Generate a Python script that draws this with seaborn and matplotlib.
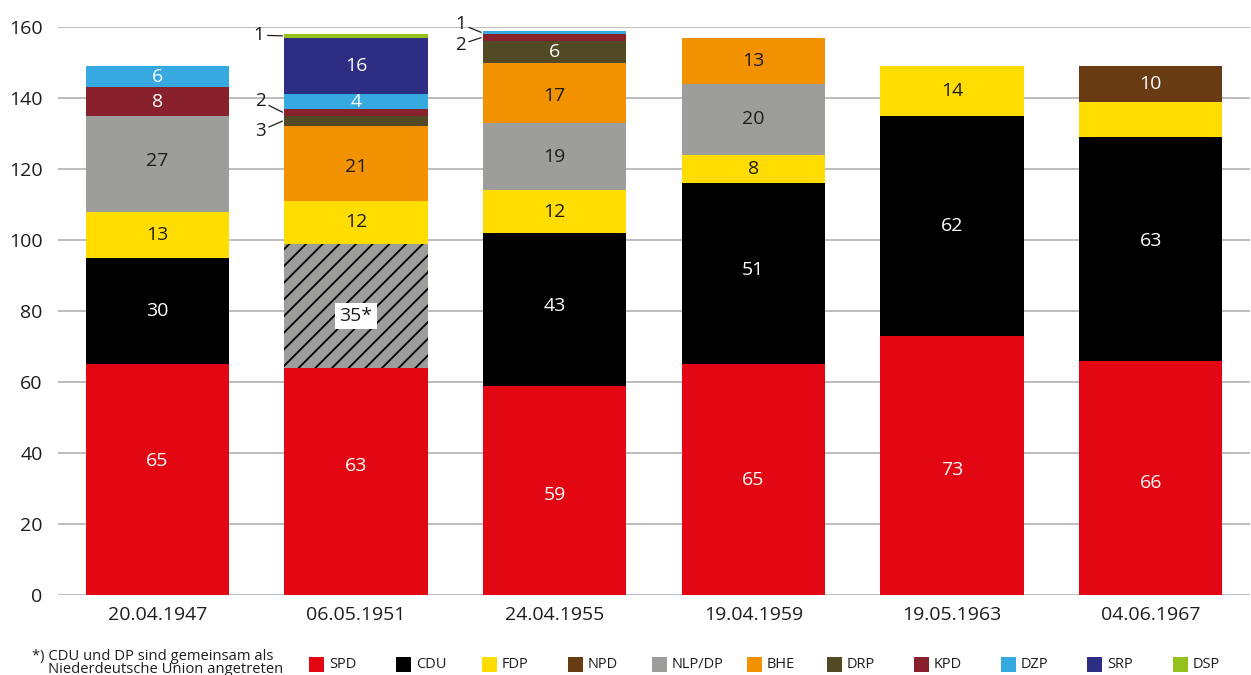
import numpy as np
import matplotlib
matplotlib.use("Agg")
import matplotlib.pyplot as plt
import seaborn as sns
from matplotlib.patches import Rectangle

# ---------------- data ----------------
dates = ["20.04.1947", "06.05.1951", "24.04.1955", "19.04.1959", "19.05.1963", "04.06.1967"]
spd    = [65, 64, 59, 65, 73, 66]
cdu    = [30,  0, 43, 51, 62, 63]
nu     = [ 0, 35,  0,  0,  0,  0]   # CDU + DP (Niederdeutsche Union)
fdp    = [13, 12, 12,  8, 14, 10]
nlp_dp = [27,  0, 19, 20,  0,  0]
bhe    = [ 0, 21, 17, 13,  0,  0]
drp    = [ 0,  3,  6,  0,  0,  0]
kpd    = [ 8,  2,  2,  0,  0,  0]
dzp    = [ 6,  4,  1,  0,  0,  0]
srp    = [ 0, 16,  0,  0,  0,  0]
dsp    = [ 0,  1,  0,  0,  0,  0]
npd    = [ 0,  0,  0,  0,  0, 10]

# label texts as printed in the chart where they differ from the bar value
label_text = {("SPD", 1): "63", ("NU", 1): "35*"}
unlabeled = [("FDP", 5)]
legend_parties = ["SPD", "CDU", "FDP", "NPD", "NLP/DP", "BHE", "DRP", "KPD", "DZP", "SRP", "DSP"]
footnote = ["*) CDU und DP sind gemeinsam als", "Niederdeutsche Union angetreten"]

# ---------------- style ----------------
colors = {
    "SPD": "#e30613", "CDU": "#000000", "NU": "#9d9d9c", "FDP": "#ffdd00",
    "NPD": "#693b13", "NLP/DP": "#9d9d9c", "BHE": "#f39200", "DRP": "#514a25",
    "KPD": "#89212d", "DZP": "#36a9e1", "SRP": "#2d2e83", "DSP": "#95c11f",
}
text_white = {"SPD", "CDU", "NPD", "DRP", "KPD", "DZP", "SRP", "DSP"}
dark = "#1d1d1b"

layers = [
    ("SPD", spd), ("CDU", cdu), ("NU", nu), ("FDP", fdp), ("NLP/DP", nlp_dp),
    ("BHE", bhe), ("DRP", drp), ("KPD", kpd), ("DZP", dzp), ("SRP", srp),
    ("DSP", dsp), ("NPD", npd),
]

# vertical nudges of in-bar labels (data units), as placed in the reference
label_nudge = {
    ("SPD", 0): 5.2, ("SPD", 1): 4.3, ("SPD", 2): -1.3, ("SPD", 4): -1.3, ("SPD", 5): -1.5,
    ("NU", 1): -2.9, ("CDU", 2): 0.9, ("CDU", 3): 1.0, ("CDU", 5): 2.2, ("NLP/DP", 0): 0.8,
    ("BHE", 1): -0.9, ("BHE", 2): -0.9,
}
# leader-line label offsets (points) for thin segments
leader_offsets = {
    ("DSP", 1): (-17, 0.5),
    ("KPD", 1): (-16, 8),
    ("DRP", 1): (-16, -7),
    ("DZP", 2): (-15, 6),
    ("KPD", 2): (-15, -5),
}
legend_x_px = [309, 396, 482, 568, 652, 747, 827, 914, 1001, 1087, 1173]

sns.set_style("white")
plt.rcParams["font.family"] = ["Open Sans", "DejaVu Sans"]
plt.rcParams["hatch.linewidth"] = 1.3

W, H = 1251, 675
fig, ax = plt.subplots(figsize=(W / 100, H / 100), dpi=100)
fig.subplots_adjust(left=58 / W, right=1250 / W, bottom=80 / H, top=648 / H)

bar_w = 0.72
bottom = np.zeros(len(dates))
for name, vals in layers:
    vals = np.array(vals, dtype=float)
    kw = dict(edgecolor="none", linewidth=0)
    if name == "NU":
        kw = dict(edgecolor="black", linewidth=0, hatch="//")
    sns.barplot(x=dates, y=vals, order=dates, color=colors[name], saturation=1,
                width=bar_w, bottom=bottom.copy(), errorbar=None, ax=ax, zorder=3, **kw)
    for i, v in enumerate(vals):
        if v <= 0 or (name, i) in unlabeled:
            continue
        yc = bottom[i] + v / 2 + label_nudge.get((name, i), 0)
        lab = label_text.get((name, i), f"{int(v)}")
        if (name, i) in leader_offsets:
            dx, dy = leader_offsets[(name, i)]
            ax.annotate(lab, xy=(i - bar_w / 2 - 0.01, bottom[i] + v / 2), xytext=(dx, dy),
                        textcoords="offset points", ha="center", va="center",
                        fontsize=13.5, color=dark, annotation_clip=False,
                        arrowprops=dict(arrowstyle="-", lw=0.9, color=dark,
                                        shrinkA=0, shrinkB=0))
        elif name == "NU":
            ax.text(i, yc, lab, ha="center", va="center", fontsize=14, color=dark, zorder=5,
                    bbox=dict(facecolor="white", edgecolor="none", pad=3))
        else:
            c = "white" if name in text_white else dark
            ax.text(i, yc, lab, ha="center", va="center", fontsize=14, color=c, zorder=5)
    bottom += vals

ax.set_ylim(0, 160)
ax.set_xlim(-0.5, len(dates) - 0.5)
ax.set_yticks(np.arange(0, 161, 20))
ax.yaxis.grid(True, color="#b2b2b2", linewidth=1.2)
ax.xaxis.grid(False)
ax.set_axisbelow(True)
for s in ax.spines.values():
    s.set_visible(False)
ax.tick_params(axis="y", length=0, pad=11, labelsize=14, labelcolor=dark)
ax.tick_params(axis="x", length=0, pad=8, labelsize=14, labelcolor=dark)
ax.set_xlabel("")
ax.set_ylabel("")

# legend (manual layout, one row)
sq = 15
for p, xp in zip(legend_parties, legend_x_px):
    fig.add_artist(Rectangle((xp / W, 1 - 672 / H), sq / W, sq / H,
                             transform=fig.transFigure, facecolor=colors[p],
                             edgecolor="none"))
    fig.text((xp + sq + 5) / W, 1 - 664.5 / H, p, fontsize=10.5,
             color=dark, va="center", ha="left")

fig.text(32 / W, 1 - 660 / H, footnote[0], fontsize=10.6, color=dark,
         va="baseline", ha="left")
fig.text(48 / W, 1 - 673 / H, footnote[1], fontsize=10.6, color=dark,
         va="baseline", ha="left")

fig.savefig("out.png", dpi=100)
